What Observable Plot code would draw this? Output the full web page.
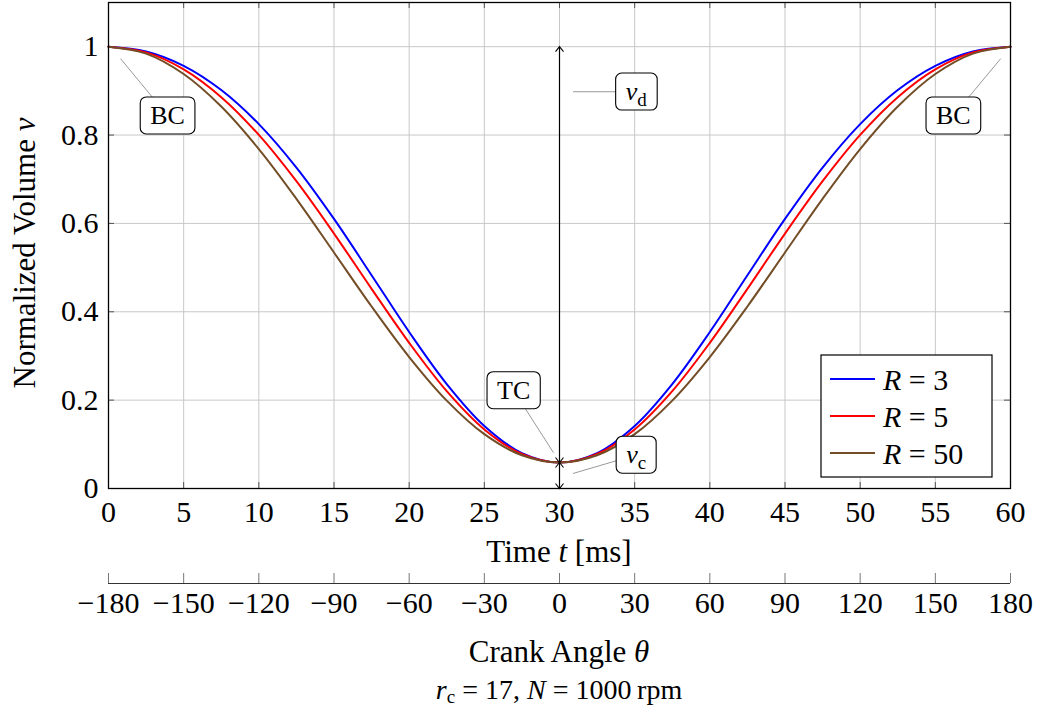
<!DOCTYPE html>
<html><head><meta charset="utf-8">
<script src="https://cdn.jsdelivr.net/npm/d3@7"></script>
<script src="https://cdn.jsdelivr.net/npm/@observablehq/plot@0.6"></script>
<style>
body{margin:0;background:#fff;font-family:"Liberation Serif",serif;}
svg{display:block}
#caption{width:902px;margin-left:108px;text-align:center;font-size:28px;line-height:30px;color:#000;}
#caption sub{font-size:19px;vertical-align:-4px;line-height:0}
</style></head><body><div id="chart"></div><div id="caption"><i>r</i><sub>c</sub> = 17, <i>N</i> = 1000&#8201;rpm</div>
<script>
// ---- data ----
const time = [0,2.5,5,7.5,10,12.5,15,17.5,20,22.5,25,27.5,30,32.5,35,37.5,40,42.5,45,47.5,50,52.5,55,57.5,60];
const vR3  = [1.0000,0.9892,0.9567,0.9019,0.8248,0.7264,0.6102,0.4828,0.3542,0.2364,0.1416,0.0801,0.0588,0.0801,0.1416,0.2364,0.3542,0.4828,0.6102,0.7264,0.8248,0.9019,0.9567,0.9892,1.0000];
const vR5  = [1.0000,0.9871,0.9487,0.8858,0.8003,0.6955,0.5770,0.4519,0.3297,0.2203,0.1337,0.0780,0.0588,0.0780,0.1337,0.2203,0.3297,0.4519,0.5770,0.6955,0.8003,0.8858,0.9487,0.9871,1.0000];
const vR50 = [1.0000,0.9843,0.9381,0.8645,0.7682,0.6556,0.5341,0.4120,0.2976,0.1990,0.1230,0.0752,0.0588,0.0752,0.1230,0.1990,0.2976,0.4120,0.5341,0.6556,0.7682,0.8645,0.9381,0.9843,1.0000];
const seriesR = [3, 5, 50];
const seriesColors = ["#0000ff", "#ff0000", "#734d26"];
const timeTicks = [0,5,10,15,20,25,30,35,40,45,50,55,60];
const volTicks = [0,0.2,0.4,0.6,0.8,1];
const angleTicks = [-180,-150,-120,-90,-60,-30,0,30,60,90,120,150,180];
const vc = 0.0588;
// annotations
const annText = ["BC","BC","v_d","TC","v_c"];
const annX = [3.93, 56.2, 35.1, 26.95, 35.1];
const annY = [0.844, 0.844, 0.898, 0.222, 0.076];
const pinX = [0.8, 59.35, 30.9, 29.6, 30.9];
const pinY = [0.973, 0.973, 0.898, 0.081, 0.034];
const arrowX = [30, 30];
const arrowY1 = [vc, 0];
const arrowY2 = [1, vc];

// ---- build ----
const seriesList = [vR3, vR5, vR50];
const rows = [];
seriesList.forEach((vals, s) => vals.forEach((v, i) => rows.push({t: time[i], v, s})));
const idx = (a) => a.map((_, i) => i);

const W = 1043, H1 = 570, mL = 108, mR = 33, mT = 2, mB = 82;
const pw = W - mL - mR, ph = H1 - mT - mB;
const tickLen = 6;
const FONT = '"Liberation Serif", serif';
const fontStyle = {fontFamily: FONT, fontSize: "30px", background: "white", color: "black"};

const main = Plot.plot({
  width: W, height: H1, marginLeft: mL, marginRight: mR, marginTop: mT, marginBottom: mB,
  style: fontStyle,
  x: {domain: [0, 60]},
  y: {domain: [0, 1.1]},
  marks: [
    Plot.gridX(timeTicks, {stroke: "#c8c8c8", strokeOpacity: 1}),
    Plot.gridY(volTicks, {stroke: "#c8c8c8", strokeOpacity: 1}),
    Plot.ruleX(timeTicks, {x: d => d, insetTop: ph - tickLen, stroke: "#555"}),
    Plot.ruleX(timeTicks, {x: d => d, insetBottom: ph - tickLen, stroke: "#555"}),
    Plot.ruleY(volTicks, {y: d => d, insetRight: pw - tickLen, stroke: "#555"}),
    Plot.ruleY(volTicks, {y: d => d, insetLeft: pw - tickLen, stroke: "#555"}),
    Plot.line(rows, {x: "t", y: "v", z: "s", stroke: d => seriesColors[d.s], strokeWidth: 2, curve: "catmull-rom"}),
    Plot.link(idx(arrowX), {x1: i => arrowX[i], x2: i => arrowX[i], y1: i => arrowY1[i], y2: i => arrowY2[i],
      stroke: "black", strokeWidth: 1.2}),
    Plot.link(idx(annText), {x1: i => pinX[i], y1: i => pinY[i], x2: i => annX[i], y2: i => annY[i], stroke: "#999", strokeWidth: 1}),
    Plot.text(idx(annText), {x: i => annX[i], y: i => annY[i], text: i => annText[i], fontSize: 26, fill: "black"}),
    Plot.frame({stroke: "black", strokeWidth: 1.3}),
    Plot.axisX(timeTicks, {tickSize: 0, tickPadding: 12, label: null, tickFormat: d => String(d)}),
    Plot.axisY(volTicks, {tickSize: 0, tickPadding: 10, label: null, tickFormat: d => String(d)})
  ]
});
document.getElementById("chart").appendChild(main);

const axis2 = Plot.plot({
  width: W, height: 105, marginLeft: mL, marginRight: mR, marginTop: 3, marginBottom: 92,
  style: fontStyle,
  x: {domain: [-180, 180]},
  y: {domain: [0, 1], axis: null},
  marks: [
    Plot.ruleX(angleTicks, {x: d => d, y1: 0, y2: 1, stroke: "#777"}),
    Plot.ruleY([0], {x1: -180, x2: 180, stroke: "#333", strokeWidth: 1.2}),
    Plot.axisX(angleTicks, {tickSize: 0, tickPadding: 8, label: null, tickFormat: d => d < 0 ? "\u2212" + (-d) : String(d)})
  ]
});
document.getElementById("chart").appendChild(axis2);

// ---- rich text helpers ----
function richText(sel, parts) {
  return parts.map(p => {
    const ts = sel.append("tspan").text(p.t);
    if (p.i) ts.attr("font-style", "italic");
    if (p.sub) ts.attr("font-size", p.sub).attr("dy", p.dy || 0);
    return ts;
  });
}

const svg1 = d3.select(main);
const cx = mL + pw / 2;
richText(svg1.append("text").attr("x", cx).attr("y", 562).attr("text-anchor", "middle").attr("font-size", 31),
  [{t: "Time "}, {t: "t", i: true}, {t: " [ms]"}]);
richText(svg1.append("text").attr("transform", `translate(35,${mT + ph / 2 + 8}) rotate(-90)`).attr("text-anchor", "middle").attr("font-size", 31),
  [{t: "Normalized Volume "}, {t: "v", i: true}]);

// double-headed dimension arrows
const defs = svg1.append("defs");
defs.append("marker").attr("id", "dimArrow").attr("viewBox", "-8 -6 10 12")
  .attr("markerWidth", 10).attr("markerHeight", 12).attr("markerUnits", "userSpaceOnUse")
  .attr("orient", "auto-start-reverse").attr("refX", 0).attr("refY", 0)
  .append("path").attr("d", "M-5,-4L0,0L-5,4").attr("fill", "none").attr("stroke", "black").attr("stroke-width", 1.1);
svg1.selectAll('g[aria-label="link"]').filter((d, i) => i === 0).selectAll("path")
  .attr("marker-start", "url(#dimArrow)").attr("marker-end", "url(#dimArrow)");

// boxed annotation labels
svg1.selectAll('g[aria-label="text"] text').each(function () {
  const el = d3.select(this);
  const txt = this.textContent;
  let subSpan = null;
  if (txt.includes("_")) {
    const [b, s] = txt.split("_");
    el.text("");
    subSpan = richText(el, [{t: b, i: true}, {t: s, sub: 19, dy: 0}])[1];
  }
  const bb = this.getBBox();
  if (subSpan) subSpan.attr("dy", 6);
  const r = document.createElementNS("http://www.w3.org/2000/svg", "rect");
  this.parentNode.insertBefore(r, this);
  d3.select(r).attr("x", bb.x - 10).attr("y", bb.y - 4).attr("width", bb.width + 20).attr("height", bb.height + 8)
    .attr("rx", 6).attr("fill", "white").attr("stroke", "black").attr("stroke-width", 1.1);
  const tr = this.getAttribute("transform");
  if (tr) r.setAttribute("transform", tr);
});

// legend
const lw = 171, lh = 122;
const lx = mL + pw - 18 - lw, ly = mT + ph - 11 - lh;
const lg = svg1.append("g").attr("text-anchor", "start");
lg.append("rect").attr("x", lx).attr("y", ly).attr("width", lw).attr("height", lh)
  .attr("fill", "white").attr("stroke", "black").attr("stroke-width", 1.2);
seriesR.forEach((R, i) => {
  const y = ly + 24 + i * 37;
  lg.append("line").attr("x1", lx + 9).attr("x2", lx + 54).attr("y1", y).attr("y2", y)
    .attr("stroke", seriesColors[i]).attr("stroke-width", 2);
  richText(lg.append("text").attr("x", lx + 62).attr("y", y).attr("dy", "0.35em").attr("font-size", 30).attr("text-anchor", "start"),
    [{t: "R", i: true}, {t: " = " + R}]);
});

// second axis label
const svg2 = d3.select(axis2);
richText(svg2.append("text").attr("x", cx).attr("y", 92).attr("text-anchor", "middle").attr("font-size", 31),
  [{t: "Crank Angle "}, {t: "\u03b8", i: true}]);

d3.selectAll("svg").style("font-family", FONT, "important").selectAll("text").style("font-family", FONT, "important");
</script></body></html>
